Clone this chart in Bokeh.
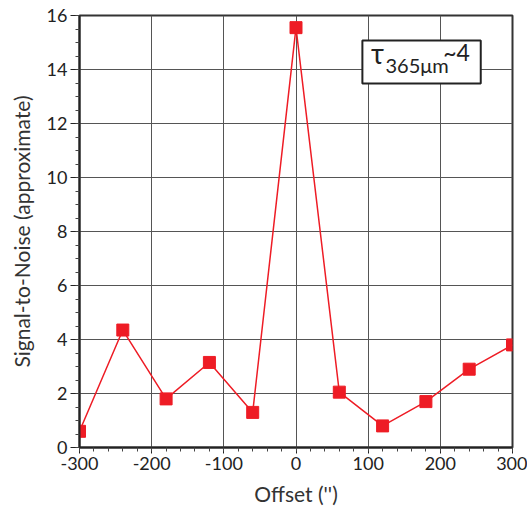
from bokeh.plotting import figure
from bokeh.models import Range1d, FixedTicker, BoxAnnotation, Label, PrintfTickFormatter
from bokeh.embed import file_html
from bokeh.resources import INLINE

offsets = [-300, -240, -180, -120, -60, 0, 60, 120, 180, 240, 300]
snr = [0.6, 4.35, 1.8, 3.15, 1.3, 15.55, 2.05, 0.8, 1.7, 2.9, 3.8]
x_ticks = [-300, -200, -100, 0, 100, 200, 300]
y_ticks = [0, 2, 4, 6, 8, 10, 12, 14, 16]

FONT = "Lato"
RED = "#ee1c25"

p = figure(width=527, height=508, output_backend="svg", toolbar_location=None,
           x_range=Range1d(-300, 300), y_range=Range1d(0, 16))
p.min_border_left = 79
p.min_border_right = 15
p.min_border_top = 15
p.min_border_bottom = 61
p.background_fill_color = "white"
p.border_fill_color = "white"
p.outline_line_color = "#333333"
p.outline_line_width = 2

p.xaxis.ticker = FixedTicker(ticks=x_ticks, minor_ticks=list(range(-300, 301, 20)))
p.yaxis.ticker = FixedTicker(ticks=y_ticks, minor_ticks=[i * 0.5 for i in range(33)])
p.xaxis.formatter = PrintfTickFormatter(format="%d")
p.yaxis.formatter = PrintfTickFormatter(format="%d")

for ax in (p.xaxis, p.yaxis):
    ax.axis_line_color = "#222222"
    ax.axis_line_width = 2
    ax.major_tick_line_color = "#222222"
    ax.minor_tick_line_color = "#444444"
    ax.major_tick_in = 0
    ax.minor_tick_in = 0
    ax.major_label_text_font = FONT
    ax.major_label_text_font_size = "18px"
    ax.major_label_text_color = "#222222"
    ax.axis_label_text_font = FONT
    ax.axis_label_text_font_size = "21px"
    ax.axis_label_text_font_style = "normal"
    ax.axis_label_text_color = "#333333"

p.xaxis.major_tick_out = 6
p.xaxis.minor_tick_out = 4
p.yaxis.major_tick_out = 9
p.yaxis.minor_tick_out = 4
p.xaxis.major_label_standoff = 3
p.yaxis.major_label_standoff = 3
p.xaxis.axis_label = "Offset ('')"
p.yaxis.axis_label = "Signal-to-Noise (approximate)"
p.xaxis.axis_label_standoff = 8
p.yaxis.axis_label_standoff = 10

p.grid.grid_line_color = "#555555"
p.grid.grid_line_width = 1
p.grid.grid_line_alpha = 1.0

p.line(offsets, snr, line_color=RED, line_width=1.5)
p.scatter(offsets, snr, marker="square", size=12, fill_color=RED, line_color=RED)

box = BoxAnnotation(left=92, right=256, bottom=13.48, top=15.07,
                    fill_color="white", fill_alpha=1.0,
                    line_color="#222222", line_alpha=1.0, line_width=2, level="overlay")
p.add_layout(box)

p.add_layout(Label(x=104, y=14.0, text="τ", text_font=FONT, text_font_size="28px",
                   text_color="#222222", level="overlay"))
p.add_layout(Label(x=124, y=13.72, text="365μm", text_font=FONT, text_font_size="20px",
                   text_color="#222222", level="overlay"))
p.add_layout(Label(x=204, y=14.12, text="~4", text_font=FONT, text_font_size="23px",
                   text_color="#222222", level="overlay"))

open("out.html", "w").write(file_html(p, INLINE))
